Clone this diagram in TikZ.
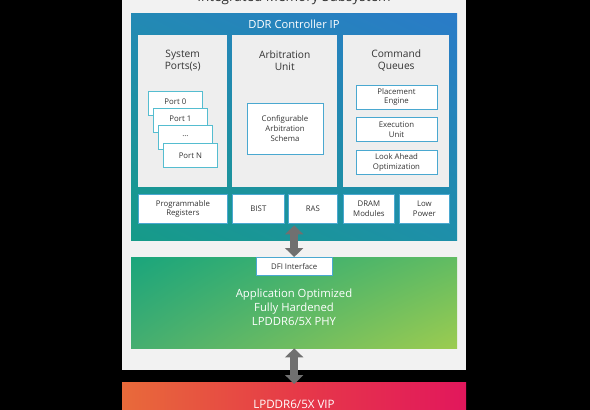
\documentclass[tikz,border=0pt]{standalone}
\usepackage{fontspec}
\setmainfont{Open Sans}
\usetikzlibrary{arrows.meta,positioning,shadings}

\definecolor{outergray}{HTML}{F2F2F2}
\definecolor{panelgray}{HTML}{EEEEEE}
\definecolor{boxline}{HTML}{4AA8D0}
\definecolor{portline}{HTML}{55BDD0}
\definecolor{textgray}{HTML}{333333}
\definecolor{arrowgray}{HTML}{707070}
\definecolor{ctrlul}{HTML}{2389B5}
\definecolor{ctrlur}{HTML}{2A7BC8}
\definecolor{ctrlll}{HTML}{169B88}
\definecolor{ctrllr}{HTML}{1E8FAA}
\definecolor{phyul}{HTML}{1AA57C}
\definecolor{phyur}{HTML}{62BC62}
\definecolor{phyll}{HTML}{45AE70}
\definecolor{phylr}{HTML}{9CCC50}
\definecolor{vipleft}{HTML}{E86A3A}
\definecolor{vipmid}{HTML}{E63A48}
\definecolor{vipright}{HTML}{E2175C}

\tikzset{
  panel/.style={fill=panelgray,inner sep=0pt,anchor=north west},
  ptitle/.style={align=center,text=textgray,font=\fontsize{10.2}{12}\selectfont},
  box/.style={fill=white,draw=boxline,line width=0.8pt,inner sep=0pt,align=center,
    text=textgray,font=\fontsize{7.8}{9.8}\selectfont},
  rowbox/.style={box,anchor=north west,minimum height=29pt},
  portbox/.style={box,draw=portline,anchor=north west,minimum width=54pt,minimum height=24pt},
  qbox/.style={box,minimum width=81pt,minimum height=24pt},
  dblarrow/.style={draw=arrowgray,line width=8pt,
    {Triangle[width=18pt,length=9pt]}-{Triangle[width=18pt,length=9pt]}}
}

\begin{document}
\begin{tikzpicture}[x=1pt,y=-1pt]
  \fill[black] (0,0) rectangle (590,410);
  \useasboundingbox (0,0) rectangle (590,410);

  % subsystem frame
  \node[fill=outergray,inner sep=0pt,anchor=north west,minimum width=344pt,minimum height=400pt] (ims) at (122,-30) {};
  \node[text=textgray,font=\fontsize{13.5}{15}\selectfont] (imstitle) at (294,-2) {Integrated Memory Subsystem};

  % controller
  \node[inner sep=0pt,anchor=north west,minimum width=326pt,minimum height=227pt,
    upper left=ctrlul,upper right=ctrlur,lower left=ctrlll,lower right=ctrllr] (ctrl) at (131,13) {};
  \node[text=white,font=\fontsize{11.2}{13}\selectfont] (ctrltitle) at (294,24) {DDR Controller IP};

  \node[panel,minimum width=89pt,minimum height=152pt] (ports) at (138,35) {};
  \node[panel,minimum width=105pt,minimum height=152pt] (arb) at (232,35) {};
  \node[panel,minimum width=106pt,minimum height=152pt] (cmd) at (343,35) {};
  \node[ptitle] at ([yshift=-25.5pt]ports.north) {System\\Ports(s)};
  \node[ptitle] at ([yshift=-25.5pt]arb.north) {Arbitration\\Unit};
  \node[ptitle] at ([yshift=-25.5pt]cmd.north) {Command\\Queues};

  \node[portbox] (port0) at (148,91) {\raisebox{3pt}{Port 0}};
  \node[portbox] (port1) at (153,108) {\raisebox{3pt}{Port 1}};
  \node[portbox] (port2) at (158,125) {\raisebox{3pt}{...}};
  \node[portbox] (port3) at (163,143) {Port N};

  \node[box,minimum width=76pt,minimum height=51pt] (schema) at (285,128.5) {Configurable\\Arbitration\\Schema};

  \node[qbox] (place) at (396.5,97) {Placement\\Engine};
  \node[qbox,below=8pt of place] (exec) {Execution\\Unit};
  \node[qbox,below=8pt of exec] (look) {Look Ahead\\Optimization};

  \node[rowbox,minimum width=89pt] (regs) at (138,194) {Programmable\\Registers};
  \node[rowbox,minimum width=52pt] (bist) at (232,194) {BIST};
  \node[rowbox,minimum width=49pt] (ras) at (288,194) {RAS};
  \node[rowbox,minimum width=51pt] (dram) at (343,194) {DRAM\\Modules};
  \node[rowbox,minimum width=50pt] (lowpwr) at (399,194) {Low\\Power};

  % phy
  \node[inner sep=0pt,anchor=north west,minimum width=326pt,minimum height=91pt,
    upper left=phyul,upper right=phyur,lower left=phyll,lower right=phylr] (phy) at (131,257) {};
  \node[box,anchor=north,minimum width=76pt,minimum height=18pt] (dfi) at (phy.north) {DFI Interface};
  \node[text=white,align=center,font=\fontsize{11.3}{14}\selectfont] (phytext) at (294,307) {Application Optimized\\Fully Hardened\\LPDDR6/5X PHY};

  % vip
  \node[inner sep=0pt,anchor=north west,minimum width=344pt,minimum height=60pt,
    left color=vipleft,right color=vipright,middle color=vipmid] (vip) at (122,382) {};
  \node[text=white,font=\fontsize{11.6}{13}\selectfont] (viptext) at (294,404) {LPDDR6/5X VIP};

  \draw[dblarrow] ([yshift=15pt]ctrl.south) -- (dfi.north);
  \draw[dblarrow] (phy.south) -- ([yshift=-2pt]vip.north);
\end{tikzpicture}
\end{document}
